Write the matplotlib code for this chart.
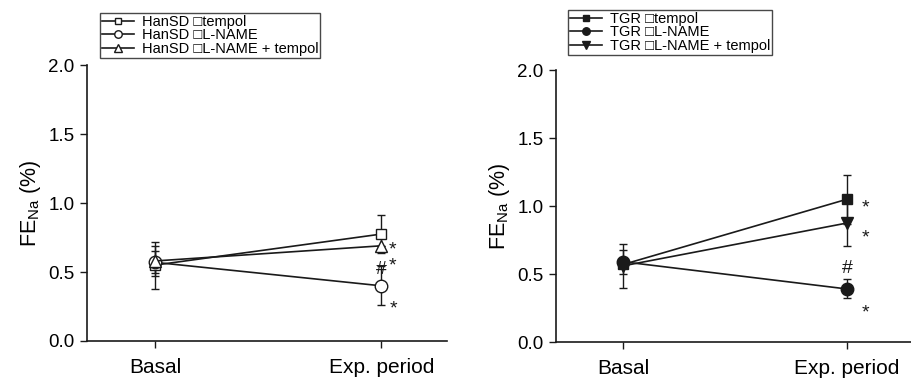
import matplotlib
matplotlib.use("Agg")
import matplotlib.pyplot as plt

plt.rcParams['font.family'] = ['Liberation Sans', 'DejaVu Sans']
plt.rcParams['mathtext.default'] = 'regular'

x_labels = ['Basal', 'Exp. period']
xpos = [0, 1]

# HanSD groups
han_labels = ['HanSD \u25a1tempol', 'HanSD \u25a1L-NAME', 'HanSD \u25a1L-NAME + tempol']
han_tempol = [0.55, 0.775]
han_tempol_err = [0.17, 0.135]
han_lname = [0.57, 0.40]
han_lname_err = [0.08, 0.14]
han_both = [0.58, 0.69]
han_both_err = [0.11, 0.0]

# TGR groups
tgr_labels = ['TGR \u25a1tempol', 'TGR \u25a1L-NAME', 'TGR \u25a1L-NAME + tempol']
tgr_tempol = [0.57, 1.05]
tgr_tempol_err = [0.0, 0.18]
tgr_lname = [0.59, 0.39]
tgr_lname_err = [0.09, 0.07]
tgr_both = [0.56, 0.875]
tgr_both_err = [0.16, 0.17]

ink = '#1a1a1a'
fig = plt.figure(figsize=(9.12, 3.78), dpi=100)
ax1 = fig.add_axes([0.0954, 0.0979, 0.3947, 0.730])
ax2 = fig.add_axes([0.6096, 0.0952, 0.3904, 0.7196])


def draw(ax, series, labels, filled):
    handles = []
    for (vals, err, mk, ms), lab in zip(series, labels):
        h = ax.errorbar(xpos, vals, yerr=err, color=ink, lw=1.2, marker=mk, ms=ms,
                        mfc=ink if filled else 'white', mec=ink, mew=1.0,
                        capsize=3, elinewidth=1.0, capthick=1.0, label=lab)
        handles.append(h[0])
    ax.set_xlim(-0.3, 1.29)
    ax.set_ylim(0, 2.0)
    ax.set_yticks([0, 0.5, 1.0, 1.5, 2.0])
    ax.set_yticklabels(['0.0', '0.5', '1.0', '1.5', '2.0'])
    ax.set_xticks(xpos)
    ax.set_xticklabels(x_labels, fontsize=15)
    ax.tick_params(axis='y', labelsize=13.5, length=5, width=1, color=ink, pad=4)
    ax.tick_params(axis='x', length=5, width=1, color=ink, pad=7)
    for s in ['top', 'right']:
        ax.spines[s].set_visible(False)
    for s in ['left', 'bottom']:
        ax.spines[s].set_color(ink)
        ax.spines[s].set_linewidth(1.2)
    ax.set_ylabel('FE$_{Na}$ (%)', fontsize=15.5, labelpad=4)
    return handles


h1 = draw(ax1, [(han_tempol, han_tempol_err, 's', 7.5),
                (han_lname, han_lname_err, 'o', 9),
                (han_both, han_both_err, '^', 9)], han_labels, False)
h2 = draw(ax2, [(tgr_tempol, tgr_tempol_err, 's', 7.5),
                (tgr_lname, tgr_lname_err, 'o', 9),
                (tgr_both, tgr_both_err, 'v', 9)], tgr_labels, True)

for hs, labels, anchor in [(h1, han_labels, (100 / 912, 1 - 13 / 378)),
                           (h2, tgr_labels, (568 / 912, 1 - 10 / 378))]:
    leg = fig.legend(hs, labels, loc='upper left', bbox_to_anchor=anchor,
                     fontsize=10.5, frameon=True, fancybox=False, edgecolor=ink,
                     handlelength=2.2, handletextpad=0.5, labelspacing=-0.05,
                     borderpad=0.15, borderaxespad=0, markerscale=0.6)
    leg.get_frame().set_linewidth(1.0)

# significance marks
star = dict(fontsize=14, color=ink, ha='center', va='center')
hsh = dict(fontsize=14, color=ink, ha='center', va='center')
ax1.annotate('*', xy=(1, han_both[1]), xytext=(8, -3), textcoords='offset points', **star)
ax1.annotate('#', xy=(1, han_lname[1]), xytext=(0, 12), textcoords='offset points', **hsh)
ax1.annotate('*', xy=(1, han_lname[1]), xytext=(8, 14), textcoords='offset points', **star)
ax1.annotate('*', xy=(1, han_lname[1]), xytext=(9, -17), textcoords='offset points', **star)

ax2.annotate('*', xy=(1, tgr_tempol[1]), xytext=(13, -6), textcoords='offset points', **star)
ax2.annotate('*', xy=(1, tgr_both[1]), xytext=(13, -11), textcoords='offset points', **star)
ax2.annotate('#', xy=(1, tgr_lname[1]), xytext=(0, 15), textcoords='offset points', **hsh)
ax2.annotate('*', xy=(1, tgr_lname[1]), xytext=(13, -17), textcoords='offset points', **star)

fig.savefig('out.png', dpi=100)
